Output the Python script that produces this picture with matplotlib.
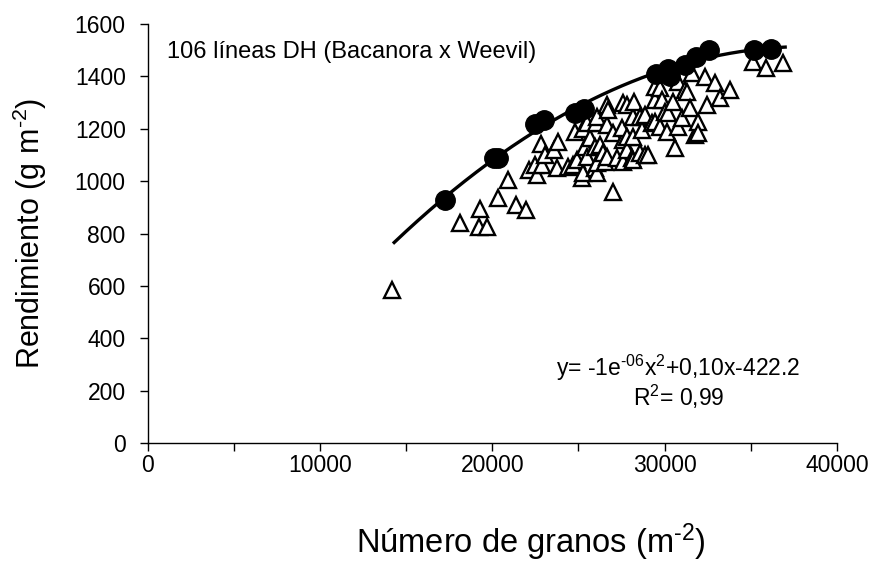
import numpy as np
import matplotlib
matplotlib.use("Agg")
import matplotlib.pyplot as plt

plt.rcParams['font.family'] = ['Liberation Sans', 'DejaVu Sans']
plt.rcParams['mathtext.fontset'] = 'custom'
plt.rcParams['mathtext.rm'] = 'Liberation Sans'
plt.rcParams['mathtext.it'] = 'Liberation Sans'
plt.rcParams['mathtext.default'] = 'regular'

# lineas DH (triangulos)
granos_dh = [14200, 18100, 19300, 19200, 19700, 20300, 20900, 21400, 21950, 22100,
             22600, 22500, 22900, 22850, 23050, 23600, 23800, 23750, 24400, 24700,
             24900, 24800, 25250, 25200, 25250, 25400, 25500, 25650, 25500, 25950,
             25950, 26000, 26100, 26070, 26100, 26240, 26400, 26550, 26650, 26650,
             26650, 26700, 27000, 27000, 27250, 27580, 27580, 27520, 27600, 27810,
             27810, 27810, 28100, 28150, 28150, 28150, 28200, 28560, 28560, 28680,
             28850, 28850, 29030, 29260, 29430, 29430, 29430, 29720, 29720, 29840,
             30010, 30120, 30180, 30480, 30590, 30770, 30770, 31000, 31170, 31290,
             31460, 31580, 31750, 31930, 31930, 32330, 32450, 32920, 33200, 33790,
             35120, 35870, 36900]
rend_dh = [585, 840, 895, 825, 825, 935, 1005, 910, 890, 1043,
           1024, 1062, 1062, 1140, 1100, 1120, 1150, 1050, 1054, 1060,
           1081, 1188, 1200, 1012, 1031, 1130, 1092, 1165, 1222, 1130,
           1050, 1222, 1245, 1031, 1070, 1138, 1108, 1073, 1092, 1215,
           1291, 1272, 959, 1184, 1089, 1073, 1157, 1203, 1299, 1119,
           1169, 1291, 1089, 1081, 1169, 1245, 1303, 1108, 1245, 1196,
           1100, 1253, 1100, 1222, 1226, 1310, 1360, 1207, 1356, 1310,
           1264, 1188, 1260, 1303, 1127, 1207, 1379, 1241, 1348, 1341,
           1280, 1413, 1176, 1226, 1184, 1398, 1291, 1375, 1318, 1348,
           1455, 1432, 1451]

# limite superior (circulos)
granos_max = [17250, 20100, 20300, 22500, 23000, 24800, 25300, 29500, 30200, 30300,
              31200, 31800, 32600, 35200, 36200]
rend_max = [928, 1090, 1088, 1220, 1232, 1262, 1275, 1410, 1430, 1400,
            1445, 1475, 1502, 1500, 1503]

fig = plt.figure(figsize=(8.75, 5.63), dpi=100)
ax = fig.add_axes([0.169, 0.2131, 0.7874, 0.7442])

ax.plot(granos_dh, rend_dh, '^', ms=11.5, mfc='white', mec='black', mew=1.7,
        linestyle='none', zorder=2)

# ajuste cuadratico sobre el limite superior
coef = np.polyfit(granos_max, rend_max, 2)
xs = np.linspace(14300, 37000, 200)
ax.plot(xs, np.polyval(coef, xs), color='black', lw=2.4, zorder=3)

ax.plot(granos_max, rend_max, 'o', ms=14, color='black', linestyle='none', zorder=4)

ax.set_xlim(0, 40000)
ax.set_ylim(0, 1600)
ax.set_xticks(np.arange(0, 40001, 5000))
ax.set_xticklabels(['0' if v == 0 else (str(v) if v % 10000 == 0 else '')
                    for v in range(0, 40001, 5000)])
ax.set_yticks(np.arange(0, 1601, 200))
ax.tick_params(axis='both', labelsize=16.5, length=6, width=1, direction='out')
ax.tick_params(axis='x', pad=2)
ax.tick_params(axis='y', pad=10)
for s in ['top', 'right']:
    ax.spines[s].set_visible(False)
for s in ['left', 'bottom']:
    ax.spines[s].set_linewidth(1)

ax.set_ylabel('Rendimiento (g m$^{\u20102}$)', fontsize=22)
ax.yaxis.set_label_coords(-0.143, 0.5)
ax.set_xlabel('Número de granos (m$^{\u20102}$)', fontsize=23.5)
ax.xaxis.set_label_coords(0.556, -0.188)

ax.text(0.028, 0.933, '106 líneas DH (Bacanora x Weevil)', transform=ax.transAxes,
        fontsize=17, va='center', ha='left')
ax.text(0.77, 0.18, 'y= -1e$^{\u201006}$x$^{2}$+0,10x-422.2', transform=ax.transAxes,
        fontsize=16.5, va='center', ha='center')
ax.text(0.77, 0.11, 'R$^{2}$= 0,99', transform=ax.transAxes,
        fontsize=16.5, va='center', ha='center')

fig.savefig('out.png', dpi=100)
